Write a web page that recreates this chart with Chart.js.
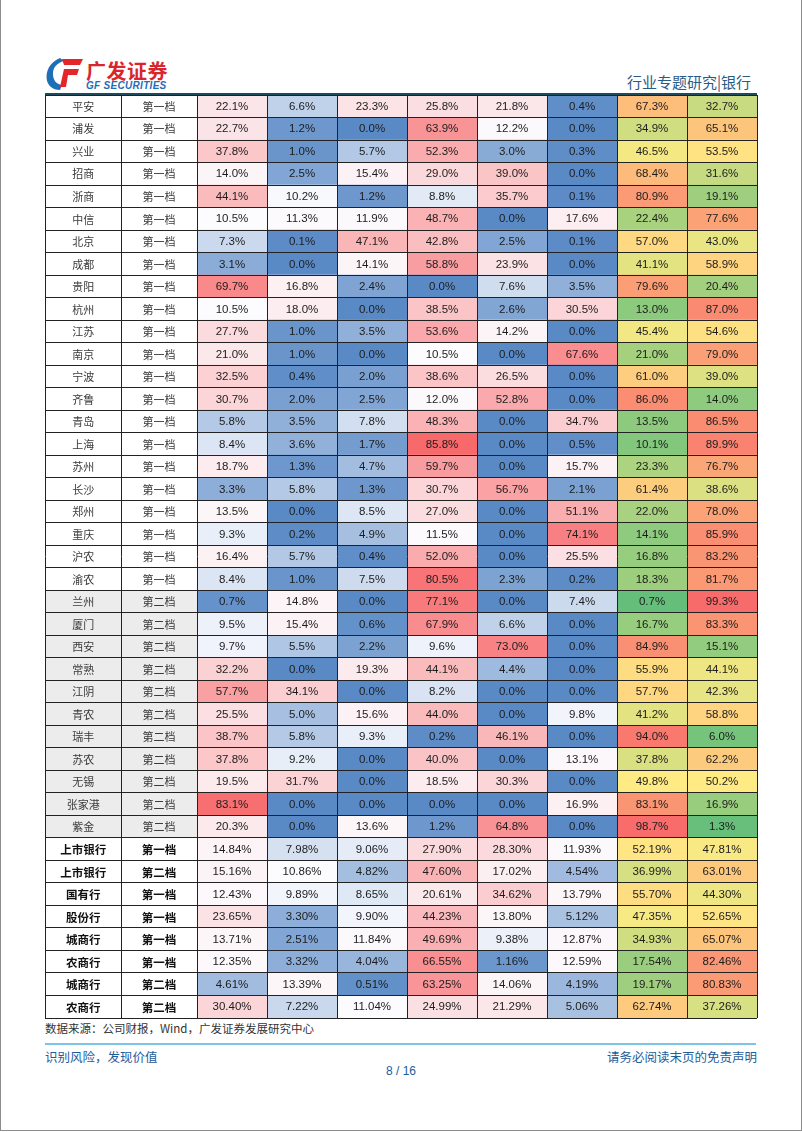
<!DOCTYPE html>
<html>
<head>
<meta charset="utf-8">
<script src="https://cdn.jsdelivr.net/npm/chart.js@4.4.0/dist/chart.umd.min.js"></script>
<style>
  html, body { margin: 0; padding: 0; background: #fff; }
  body { width: 802px; height: 1132px; position: relative; overflow: hidden; font-family: "Noto Sans CJK SC", sans-serif; }
  .frame { position: absolute; left: 0; top: 0; width: 800px; height: 1130px; border: 1px solid #8c8c8c; border-top: none; }
  .abs { position: absolute; white-space: nowrap; }
  .brand { left: 86px; top: 56px; font-size: 20px; font-weight: 700; color: #d9262c; letter-spacing: 0.5px; }
  .brand-en { left: 86px; top: 80px; font-family: "Liberation Sans", Arial, sans-serif; font-size: 10px; font-weight: 700; font-style: italic; color: #1f6db5; letter-spacing: 0.3px; }
  .section { right: 51px; top: 71px; font-size: 15px; color: #2a5b84; }
  .headline { left: 45px; top: 93px; width: 712px; height: 2px; background: #1d4a5c; }
  #wrap { position: absolute; left: 44px; top: 94px; width: 714px; height: 925px; }
  .source { left: 45px; top: 1020px; font-size: 11.5px; color: #333; }
  .footline { left: 45px; top: 1043px; width: 711px; height: 2px; background: #7cc4e8; }
  .foot { top: 1047px; font-size: 12.5px; color: #1e5c9a; }
  .page { left: 0; width: 802px; text-align: center; top: 1064px; font-size: 12px; color: #1e5c9a; font-family: "Liberation Sans", Arial, sans-serif; }
</style>
</head>
<body>
<div class="frame"></div>

<svg class="abs" style="left:45px;top:57px" width="40" height="34" viewBox="0 0 40 34">
  <path d="M15 1 C5 5 0 14 2 24 C4 30 9 33 15 33 L17 28 C11 27 8 23 8 17 C8 10 12 6 19 4 Z" fill="#1d6fb8"/>
  <path d="M17 2 L38 2 L35 8 L19 8 Z" fill="#e4262a"/>
  <path d="M19 12 L34 12 L32 18 L23 18 L21 30 L15 30 Z" fill="#e4262a"/>
</svg>
<div class="abs brand">广发证券</div>
<div class="abs brand-en">GF SECURITIES</div>
<div class="abs section">行业专题研究|银行</div>
<div class="abs headline"></div>

<div id="wrap"><canvas id="tbl"></canvas></div>

<div class="abs source">数据来源：公司财报，Wind，广发证券发展研究中心</div>
<div class="abs footline"></div>
<div class="abs foot" style="left:45px">识别风险，发现价值</div>
<div class="abs foot" style="right:45px">请务必阅读末页的免责声明</div>
<div class="abs page">8 / 16</div>

<script>
// table rows, top to bottom
const bankNames = ["平安", "浦发", "兴业", "招商", "浙商", "中信", "北京", "成都", "贵阳", "杭州",
  "江苏", "南京", "宁波", "齐鲁", "青岛", "上海", "苏州", "长沙", "郑州", "重庆",
  "沪农", "渝农", "兰州", "厦门", "西安", "常熟", "江阴", "青农", "瑞丰", "苏农",
  "无锡", "张家港", "紫金",
  "上市银行", "上市银行", "国有行", "股份行", "城商行", "农商行", "城商行", "农商行"]
const tiers = ["第一档", "第一档", "第一档", "第一档", "第一档", "第一档", "第一档", "第一档", "第一档", "第一档",
  "第一档", "第一档", "第一档", "第一档", "第一档", "第一档", "第一档", "第一档", "第一档", "第一档",
  "第一档", "第一档", "第二档", "第二档", "第二档", "第二档", "第二档", "第二档", "第二档", "第二档",
  "第二档", "第二档", "第二档",
  "第一档", "第二档", "第一档", "第一档", "第一档", "第一档", "第二档", "第二档"]

// value columns (%), same row order
const col1 = [22.1, 22.7, 37.8, 14.0, 44.1, 10.5, 7.3, 3.1, 69.7, 10.5, 27.7, 21.0, 32.5, 30.7, 5.8, 8.4, 18.7, 3.3, 13.5, 9.3, 16.4, 8.4,
  0.7, 9.5, 9.7, 32.2, 57.7, 25.5, 38.7, 37.8, 19.5, 83.1, 20.3,
  14.84, 15.16, 12.43, 23.65, 13.71, 12.35, 4.61, 30.40]
const col2 = [6.6, 1.2, 1.0, 2.5, 10.2, 11.3, 0.1, 0.0, 16.8, 18.0, 1.0, 1.0, 0.4, 2.0, 3.5, 3.6, 1.3, 5.8, 0.0, 0.2, 5.7, 1.0,
  14.8, 15.4, 5.5, 0.0, 34.1, 5.0, 5.8, 9.2, 31.7, 0.0, 0.0,
  7.98, 10.86, 9.89, 3.30, 2.51, 3.32, 13.39, 7.22]
const col3 = [23.3, 0.0, 5.7, 15.4, 1.2, 11.9, 47.1, 14.1, 2.4, 0.0, 3.5, 0.0, 2.0, 2.5, 7.8, 1.7, 4.7, 1.3, 8.5, 4.9, 0.4, 7.5,
  0.0, 0.6, 2.2, 19.3, 0.0, 15.6, 9.3, 0.0, 0.0, 0.0, 13.6,
  9.06, 4.82, 8.65, 9.90, 11.84, 4.04, 0.51, 11.04]
const col4 = [25.8, 63.9, 52.3, 29.0, 8.8, 48.7, 42.8, 58.8, 0.0, 38.5, 53.6, 10.5, 38.6, 12.0, 48.3, 85.8, 59.7, 30.7, 27.0, 11.5, 52.0, 80.5,
  77.1, 67.9, 9.6, 44.1, 8.2, 44.0, 0.2, 40.0, 18.5, 0.0, 1.2,
  27.90, 47.60, 20.61, 44.23, 49.69, 66.55, 63.25, 24.99]
const col5 = [21.8, 12.2, 3.0, 39.0, 35.7, 0.0, 2.5, 23.9, 7.6, 2.6, 14.2, 0.0, 26.5, 52.8, 0.0, 0.0, 0.0, 56.7, 0.0, 0.0, 0.0, 2.3,
  0.0, 6.6, 73.0, 4.4, 0.0, 0.0, 46.1, 0.0, 30.3, 0.0, 64.8,
  28.30, 17.02, 34.62, 13.80, 9.38, 1.16, 14.06, 21.29]
const col6 = [0.4, 0.0, 0.3, 0.0, 0.1, 17.6, 0.1, 0.0, 3.5, 30.5, 0.0, 67.6, 0.0, 0.0, 34.7, 0.5, 15.7, 2.1, 51.1, 74.1, 25.5, 0.2,
  7.4, 0.0, 0.0, 0.0, 0.0, 9.8, 0.0, 13.1, 0.0, 16.9, 0.0,
  11.93, 4.54, 13.79, 5.12, 12.87, 12.59, 4.19, 5.06]
const col7 = [67.3, 34.9, 46.5, 68.4, 80.9, 22.4, 57.0, 41.1, 79.6, 13.0, 45.4, 21.0, 61.0, 86.0, 13.5, 10.1, 23.3, 61.4, 22.0, 14.1, 16.8, 18.3,
  0.7, 16.7, 84.9, 55.9, 57.7, 41.2, 94.0, 37.8, 49.8, 83.1, 98.7,
  52.19, 36.99, 55.70, 47.35, 34.93, 17.54, 19.17, 62.74]
const col8 = [32.7, 65.1, 53.5, 31.6, 19.1, 77.6, 43.0, 58.9, 20.4, 87.0, 54.6, 79.0, 39.0, 14.0, 86.5, 89.9, 76.7, 38.6, 78.0, 85.9, 83.2, 81.7,
  99.3, 83.3, 15.1, 44.1, 42.3, 58.8, 6.0, 62.2, 50.2, 16.9, 1.3,
  47.81, 63.01, 44.30, 52.65, 65.07, 82.46, 80.83, 37.26]

const valueCols = [col1, col2, col3, col4, col5, col6, col7, col8]
const individualCount = 33   // rows after this are group averages

// layout: column widths in px (name, tier, 8 value columns)
const colWidths = [76, 76, 70, 70, 70, 70, 70, 70, 70, 70]
const edges = [0]
colWidths.forEach(w => edges.push(edges[edges.length - 1] + w))

function mix(a, b, t) {
  t = Math.max(0, Math.min(1, t))
  const c = a.map((v, k) => Math.round(v + (b[k] - v) * t))
  return `rgb(${c[0]},${c[1]},${c[2]})`
}

const BLUE = [90, 138, 198], WHITE = [252, 252, 255], RED = [248, 105, 107]
const GREEN = [99, 190, 123], YELLOW = [255, 235, 132]

// blue - white - red scale for the first six columns
function shareColor(v) {
  const mid = 10.5, max = 86
  if (v <= mid) return mix(BLUE, WHITE, v / mid)
  return mix(WHITE, RED, (v - mid) / (max - mid))
}

// green - yellow - red scale for the last two columns
function splitColor(v) {
  if (v <= 50) return mix(GREEN, YELLOW, v / 50)
  return mix(YELLOW, RED, (v - 50) / 50)
}

const rowLabels = bankNames.map((n, i) => n + " " + tiers[i] + " " + i)
const isGroup = bankNames.map((n, i) => i >= individualCount)
const labelBg = bankNames.map((n, i) => (i < individualCount && tiers[i] === "第二档") ? "#ececec" : "#ffffff")
const labelFont = isGroup.map(g => g ? '700 11.5px "Noto Sans CJK SC"' : '400 11px "Noto Sans CJK SC"')
const numFont = '11.5px "Liberation Sans", Arial, sans-serif'

function span(c) {
  return bankNames.map(() => [edges[c], edges[c + 1]])
}

const datasets = [
  { data: span(0), backgroundColor: labelBg, texts: bankNames, fonts: labelFont, textColor: bankNames.map((n, i) => isGroup[i] ? "#111" : "#3a3a3a") },
  { data: span(1), backgroundColor: labelBg, texts: tiers, fonts: labelFont, textColor: bankNames.map((n, i) => isGroup[i] ? "#111" : "#3a3a3a") }
]
valueCols.forEach((vals, k) => {
  datasets.push({
    data: span(k + 2),
    backgroundColor: vals.map(v => k < 6 ? shareColor(v) : splitColor(v)),
    texts: vals.map((v, i) => v.toFixed(isGroup[i] ? 2 : 1) + "%"),
    fonts: vals.map(() => numFont),
    textColor: vals.map(() => "#1c1c1c")
  })
})

const cellText = {
  id: "cellText",
  afterDraw(chart) {
    const ctx = chart.ctx
    chart.data.datasets.forEach((ds, d) => {
      chart.getDatasetMeta(d).data.forEach((bar, i) => {
        ctx.save()
        ctx.font = ds.fonts[i]
        ctx.fillStyle = ds.textColor[i]
        ctx.textAlign = "center"
        ctx.textBaseline = "middle"
        ctx.fillText(ds.texts[i], (bar.x + bar.base) / 2, bar.y + 0.5)
        ctx.restore()
      })
    })
  }
}

new Chart(document.getElementById("tbl"), {
  type: "bar",
  data: { labels: rowLabels, datasets: datasets },
  options: {
    indexAxis: "y",
    responsive: true,
    maintainAspectRatio: false,
    animation: false,
    events: [],
    layout: { padding: 1 },
    datasets: { bar: { grouped: false, barPercentage: 1, categoryPercentage: 1, borderWidth: 0 } },
    plugins: { legend: { display: false }, tooltip: { enabled: false } },
    scales: {
      x: {
        type: "linear", min: 0, max: edges[edges.length - 1],
        afterBuildTicks: s => { s.ticks = edges.map(v => ({ value: v })) },
        ticks: { display: false },
        grid: { color: "#222", lineWidth: 1, drawTicks: false, z: 1 },
        border: { display: false }
      },
      y: {
        type: "category", offset: true,
        ticks: { display: false },
        grid: { offset: true, color: "#222", lineWidth: 1, drawTicks: false, z: 1 },
        border: { display: false }
      }
    }
  },
  plugins: [cellText]
})
</script>
</body>
</html>
